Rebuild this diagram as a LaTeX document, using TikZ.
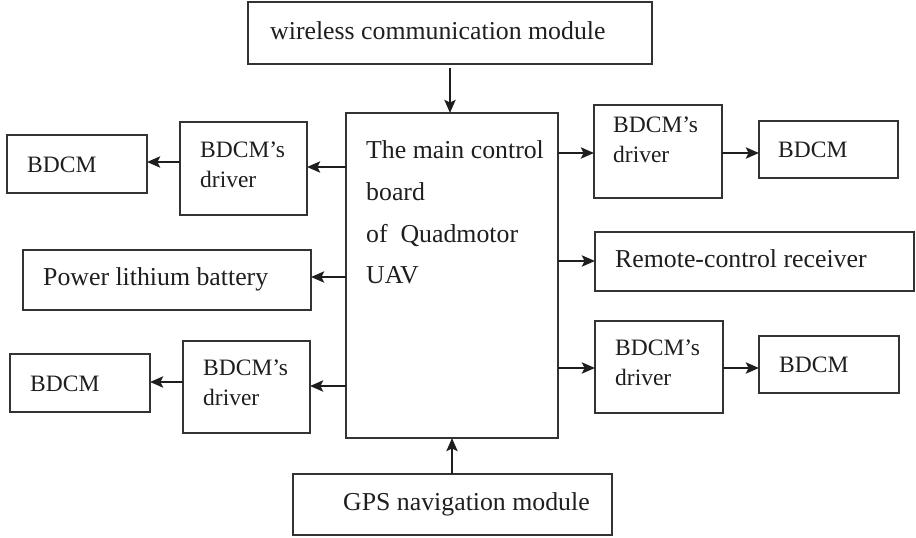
\documentclass[tikz,border=0pt]{standalone}
\usepackage{fontspec}
\setmainfont{Liberation Serif}
\usetikzlibrary{arrows.meta}
\definecolor{edge}{HTML}{333333}
\definecolor{ink}{HTML}{1E1E1E}
\tikzset{
  box/.style={draw=edge, line width=1.4pt, inner sep=0pt, outer sep=0pt},
  bigtxt/.style={anchor=base west, inner sep=0pt, text=ink, font=\fontsize{25.8}{30}\selectfont},
  smalltxt/.style={anchor=base west, inner sep=0pt, text=ink, font=\fontsize{23.5}{28}\selectfont},
  arr/.style={draw=ink, line width=2.8pt, -{Stealth[length=13pt,width=11pt,inset=2.5pt]}}
}
\begin{document}
\begin{tikzpicture}[x=1pt,y=-1pt]
\useasboundingbox (0,0) rectangle (916,538);

% boxes
\node[box, minimum width=404pt, minimum height=62pt] (wl) at (450,33) {};
\node[box, minimum width=212pt, minimum height=325pt] (mcb) at (452,275.5) {};
\node[box, minimum width=319pt, minimum height=61pt] (gps) at (452.5,504.5) {};
\node[box, minimum width=140pt, minimum height=58pt] (bTL) at (77,164) {};
\node[box, minimum width=127pt, minimum height=93pt] (dTL) at (243.5,168.5) {};
\node[box, minimum width=288pt, minimum height=60pt] (pow) at (167,280) {};
\node[box, minimum width=140pt, minimum height=58pt] (bBL) at (80,383) {};
\node[box, minimum width=127pt, minimum height=92pt] (dBL) at (246.5,387) {};
\node[box, minimum width=128pt, minimum height=93pt] (dTR) at (658,151.5) {};
\node[box, minimum width=139pt, minimum height=57pt] (bTR) at (828.5,149.5) {};
\node[box, minimum width=319pt, minimum height=59pt] (rem) at (754.5,261.5) {};
\node[box, minimum width=128pt, minimum height=92pt] (dBR) at (659,367) {};
\node[box, minimum width=140pt, minimum height=57pt] (bBR) at (829,364.5) {};

% labels
\node[bigtxt] (twl) at (270,39) {wireless communication module};
\node[bigtxt] (tm1) at (366,158) {The main control};
\node[bigtxt] (tm2) at (366,200) {board};
\node[bigtxt] (tm3) at (366,242) {of~~Quadmotor};
\node[bigtxt] (tm4) at (366,283) {UAV};
\node[bigtxt] (tgps) at (343,510) {GPS navigation module};
\node[bigtxt] (tpow) at (43,285) {Power lithium battery};
\node[bigtxt] (trem) at (615,267) {Remote-control receiver};

\node[smalltxt] (tdTLa) at (200,157) {BDCM’s};
\node[smalltxt] (tdTLb) at (200,187) {driver};
\node[smalltxt] (tdBLa) at (203,375) {BDCM’s};
\node[smalltxt] (tdBLb) at (203,405) {driver};
\node[smalltxt] (tdTRa) at (613,132) {BDCM’s};
\node[smalltxt] (tdTRb) at (613,162) {driver};
\node[smalltxt] (tdBRa) at (615,355) {BDCM’s};
\node[smalltxt] (tdBRb) at (615,385) {driver};
\node[smalltxt] (tbTL) at (27,172) {BDCM};
\node[smalltxt] (tbBL) at (30,391) {BDCM};
\node[smalltxt] (tbTR) at (778,157) {BDCM};
\node[smalltxt] (tbBR) at (779,372) {BDCM};

% connectors
\draw[arr] ([yshift=-4pt]wl.south -| 450,0) -- (mcb.north -| 450,0);
\draw[arr] (gps.north -| 452,0) -- (mcb.south -| 452,0);

\draw[arr] (mcb.west |- 0,167) -- (dTL.east |- 0,167);
\draw[arr] (dTL.west |- 0,162) -- (bTL.east |- 0,162);
\draw[arr] (mcb.west |- 0,277) -- (pow.east |- 0,277);
\draw[arr] (mcb.west |- 0,386) -- (dBL.east |- 0,386);
\draw[arr] (dBL.west |- 0,382) -- (bBL.east |- 0,382);

\draw[arr] (mcb.east |- 0,153) -- (dTR.west |- 0,153);
\draw[arr] (dTR.east |- 0,153) -- (bTR.west |- 0,153);
\draw[arr] (mcb.east |- 0,261) -- (rem.west |- 0,261);
\draw[arr] (mcb.east |- 0,368) -- (dBR.west |- 0,368);
\draw[arr] (dBR.east |- 0,368) -- (bBR.west |- 0,368);
\end{tikzpicture}
\end{document}
